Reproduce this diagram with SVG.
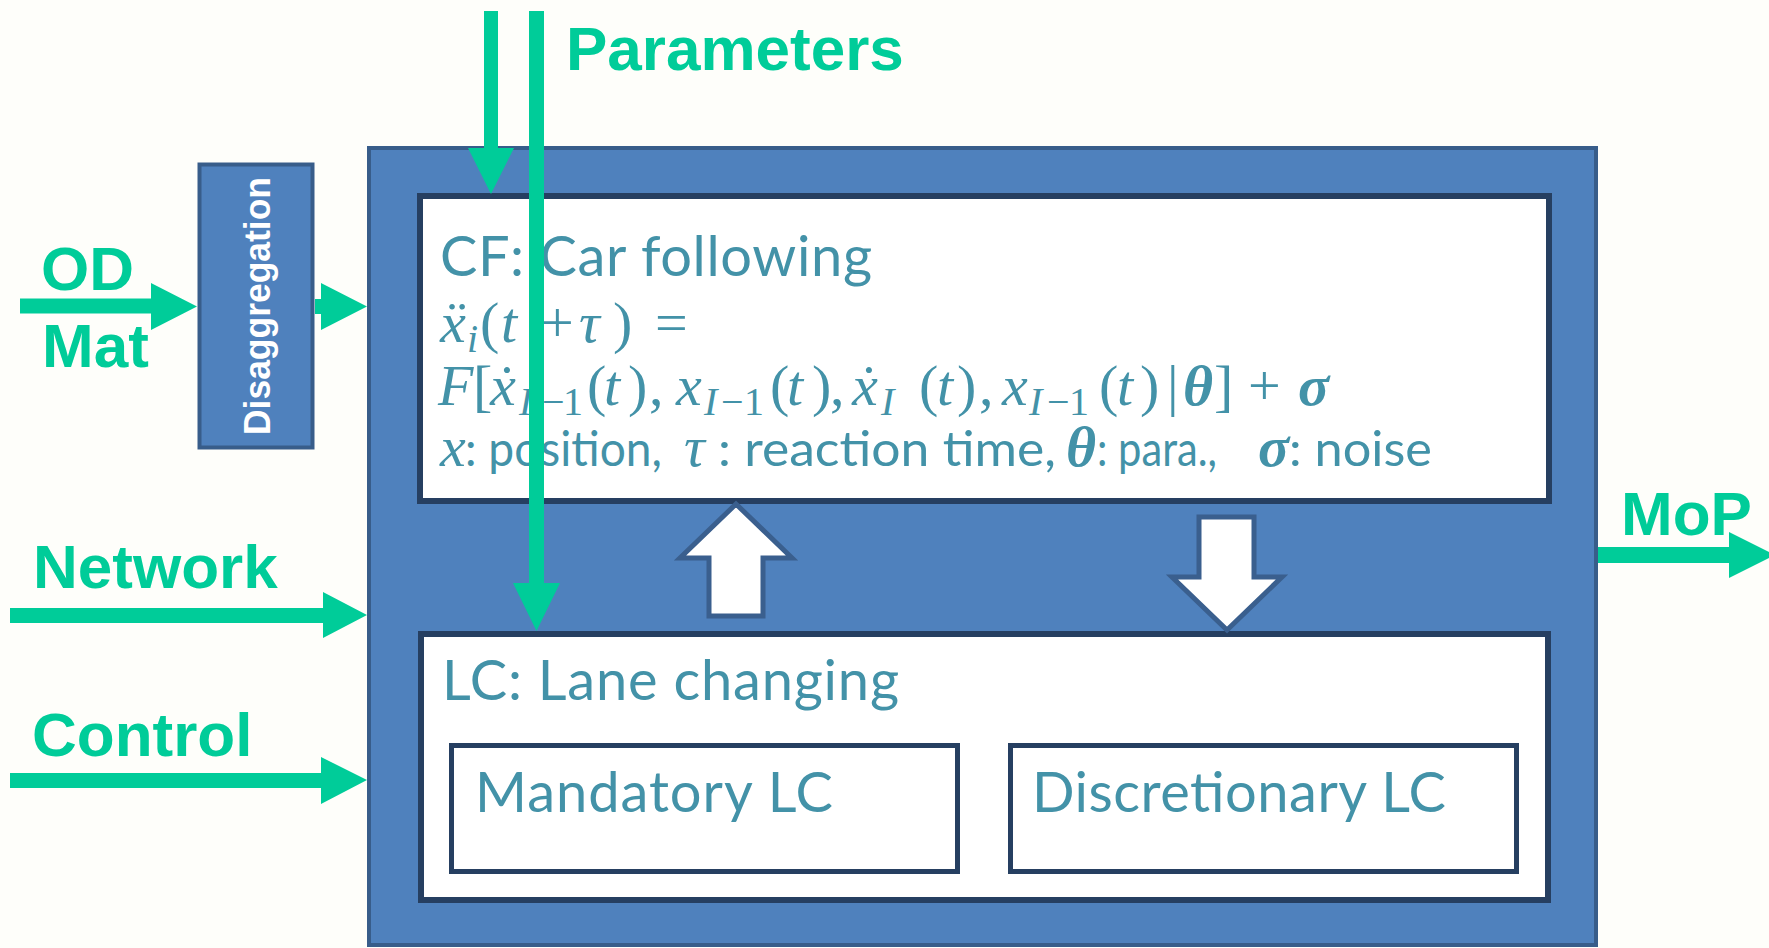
<svg xmlns="http://www.w3.org/2000/svg" width="1769" height="948" viewBox="0 0 1769 948">
  <style>
    .panel { fill: #4F81BD; stroke: #385D8A; stroke-width: 4; }
    .box { fill: #FFFFFF; stroke: #263F61; stroke-width: 6; }
    .sub { fill: #FFFFFF; stroke: #263F61; stroke-width: 5; }
    .block { fill: #FFFFFF; stroke: #3A5F8E; stroke-width: 5; stroke-linejoin: miter; }
    .flow { fill: #00CC99; }
    .lbl { font-family: "Liberation Sans", Arial, sans-serif; font-weight: bold; font-size: 62px; fill: #00CC99; }
    .title { font-family: Lato, "Open Sans", sans-serif; font-size: 56px; fill: #4392A8; }
    .body { font-family: Lato, "Open Sans", sans-serif; font-size: 48px; fill: #4392A8; }
    .math { font-family: "Liberation Serif", "DejaVu Serif", serif; font-size: 58px; fill: #4392A8; }
    .it { font-style: italic; }
    .bi { font-style: italic; font-weight: bold; }
    .sc { font-size: 40px; }
  </style>

  <rect width="1769" height="948" fill="#FEFEFA"/>

  <!-- simulator frame -->
  <g id="simulator">
    <rect class="panel" x="369" y="148" width="1227" height="797"/>
  </g>

  <!-- disaggregation step -->
  <g id="disaggregation">
    <rect class="panel" x="199.5" y="164.5" width="113" height="283" stroke-width="5"/>
    <text transform="translate(270 306) rotate(-90)" text-anchor="middle" font-family="Liberation Sans, Arial, sans-serif" font-weight="bold" font-size="37" fill="#FFFFFF" textLength="258" lengthAdjust="spacingAndGlyphs">Disaggregation</text>
  </g>

  <!-- car-following model -->
  <g id="car-following">
    <rect class="box" x="420" y="196" width="1129" height="305"/>
    <text class="title" x="440" y="276" textLength="432">CF: Car following</text>
    <text class="math"><tspan class="it" x="440" y="342">ẍ</tspan><tspan class="it sc" x="467" y="352">i</tspan><tspan x="480" y="342">(</tspan><tspan class="it" x="501" y="342">t</tspan><tspan x="541" y="342">+</tspan><tspan class="it" x="579" y="342">τ</tspan><tspan x="613" y="342">)</tspan><tspan x="655" y="342">=</tspan></text>
    <text class="math"><tspan class="it" x="438" y="405">F</tspan><tspan x="473" y="405">[</tspan><tspan class="it" x="490" y="405">ẋ</tspan><tspan class="it sc" x="519" y="415">I</tspan><tspan class="sc" x="542" y="415">−</tspan><tspan class="sc" x="563" y="415">1</tspan><tspan x="587" y="405">(</tspan><tspan class="it" x="604" y="405">t</tspan><tspan x="628" y="405">)</tspan><tspan x="649" y="405">,</tspan><tspan class="it" x="676" y="405">x</tspan><tspan class="it sc" x="704" y="415">I</tspan><tspan class="sc" x="721" y="415">−</tspan><tspan class="sc" x="744" y="415">1</tspan><tspan x="770" y="405">(</tspan><tspan class="it" x="787" y="405">t</tspan><tspan x="812" y="405">)</tspan><tspan x="830" y="405">,</tspan><tspan class="it" x="852" y="405">ẋ</tspan><tspan class="it sc" x="881" y="415">I</tspan><tspan x="919" y="405">(</tspan><tspan class="it" x="937" y="405">t</tspan><tspan x="957" y="405">)</tspan><tspan x="979" y="405">,</tspan><tspan class="it" x="1002" y="405">x</tspan><tspan class="it sc" x="1029" y="415">I</tspan><tspan class="sc" x="1047" y="415">−</tspan><tspan class="sc" x="1069" y="415">1</tspan><tspan x="1099" y="405">(</tspan><tspan class="it" x="1117" y="405">t</tspan><tspan x="1140" y="405">)</tspan><tspan x="1167" y="405">|</tspan><tspan class="bi" x="1183" y="405">θ</tspan><tspan x="1214" y="405">]</tspan><tspan x="1248" y="405">+</tspan><tspan class="bi" x="1298" y="405">σ</tspan></text>
    <text class="math it" x="440" y="466">x</text>
    <text class="body" x="465" y="466" textLength="197" lengthAdjust="spacingAndGlyphs">: position,</text>
    <text class="math it" x="684" y="466">τ</text>
    <text class="body" x="718" y="466" textLength="338" lengthAdjust="spacingAndGlyphs">: reaction time,</text>
    <text class="math bi" x="1066" y="466">θ</text>
    <text class="body" x="1097" y="466" textLength="120" lengthAdjust="spacingAndGlyphs">: para.,</text>
    <text class="math bi" x="1258" y="466">σ</text>
    <text class="body" x="1289" y="466" textLength="143" lengthAdjust="spacingAndGlyphs">: noise</text>
  </g>

  <!-- lane-changing model -->
  <g id="lane-changing">
    <rect class="box" x="421" y="634" width="1127" height="266"/>
    <text class="title" x="442" y="700" textLength="457">LC: Lane changing</text>
  </g>

  <g id="mandatory-lc">
    <rect class="sub" x="451.5" y="745.5" width="506" height="126"/>
    <text class="title" x="475" y="812" textLength="358">Mandatory LC</text>
  </g>

  <g id="discretionary-lc">
    <rect class="sub" x="1010.5" y="745.5" width="506" height="126"/>
    <text class="title" x="1032" y="812" textLength="414">Discretionary LC</text>
  </g>

  <!-- interaction between CF and LC -->
  <g id="lc-to-cf">
    <polygon class="block" points="736,504 792,558 763,558 763,616 709,616 709,558 680,558"/>
  </g>
  <g id="cf-to-lc">
    <polygon class="block" points="1199,517 1254,517 1254,577 1282,577 1227,630 1172,577 1199,577"/>
  </g>

  <!-- inputs and outputs -->
  <g id="io-labels">
    <text class="lbl" x="566" y="70">Parameters</text>
    <text class="lbl" x="41" y="290">OD</text>
    <text class="lbl" x="42" y="367">Mat</text>
    <text class="lbl" x="33" y="588">Network</text>
    <text class="lbl" x="32" y="756">Control</text>
    <text class="lbl" x="1621" y="535">MoP</text>
  </g>

  <g id="connectors">
    <polygon class="flow" points="20,298.5 151,298.5 151,283 197,306.5 151,330 151,313.5 20,313.5"/>
    <polygon class="flow" points="315,299 321,299 321,283 367,306.5 321,330 321,314 315,314"/>
    <polygon class="flow" points="10,608 323,608 323,592 367,615 323,638 323,623 10,623"/>
    <polygon class="flow" points="10,773 321,773 321,757 367,780 321,804 321,788 10,788"/>
    <polygon class="flow" points="1598,547 1729,547 1729,532 1775,555 1729,578 1729,563 1598,563"/>
    <polygon class="flow" points="484,11 498,11 498,148 514,148 491,194 468,148 484,148"/>
    <polygon class="flow" points="529,11 544,11 544,583 560,583 536.5,631 513,583 529,583"/>
  </g>
</svg>
